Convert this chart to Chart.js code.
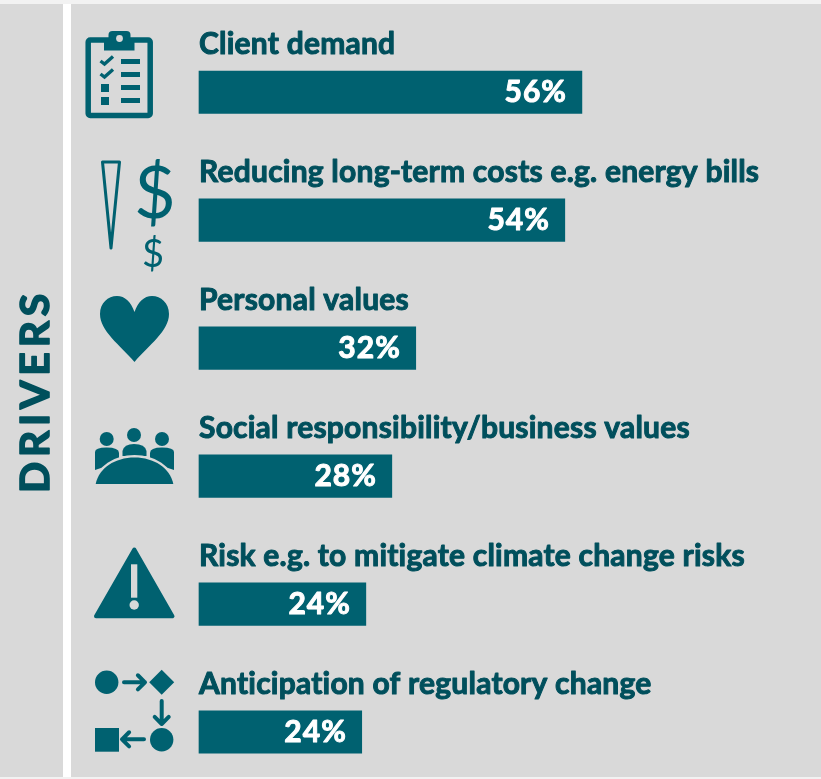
<!DOCTYPE html>
<html><head><meta charset="utf-8">
<style>html,body{margin:0;padding:0;background:#f2f2f2;overflow:hidden}canvas{display:block}</style>
<script src="https://cdn.jsdelivr.net/npm/chart.js@4"></script>
</head><body><canvas id="c" width="821" height="779"></canvas>
<script>
const categories = ["Client demand","Reducing long-term costs e.g. energy bills","Personal values","Social responsibility/business values","Risk e.g. to mitigate climate change risks","Anticipation of regulatory change"];
const shares = [56, 53.5, 31.7, 28.2, 24.4, 23.8];
const sideTitle = "DRIVERS";
const TEAL = "#006170", DARK = "#004f5c", PANEL = "#d9d9d9";

function heavyText(x,t,px,py,w){x.lineWidth=w;x.lineJoin="round";x.strokeStyle=x.fillStyle;x.strokeText(t,px,py);x.fillText(t,px,py);}
function dome(ctx){ctx.beginPath();ctx.moveTo(95.7,484);ctx.bezierCurveTo(99,468,115,457.5,134.5,457.5);ctx.bezierCurveTo(154,457.5,170,468,173.3,484);ctx.closePath();}
function arrow(ctx,x1,y1,x2,y2){
  const a=Math.atan2(y2-y1,x2-x1),h=10;
  ctx.beginPath();ctx.moveTo(x1,y1);ctx.lineTo(x2,y2);
  ctx.moveTo(x2-h*Math.cos(a-0.78),y2-h*Math.sin(a-0.78));ctx.lineTo(x2,y2);ctx.lineTo(x2-h*Math.cos(a+0.78),y2-h*Math.sin(a+0.78));ctx.stroke();
}
function drawIcons(ctx){
  ctx.save();ctx.fillStyle=TEAL;ctx.strokeStyle=TEAL;
  // clipboard
  ctx.lineWidth=5.5;ctx.lineJoin="round";ctx.beginPath();ctx.roundRect(88.2,40,62,75.5,2);ctx.stroke();
  ctx.beginPath();ctx.roundRect(108.5,31,22,15,4);ctx.fill();ctx.fillRect(104,40,30.5,10.5);
  ctx.fillStyle=PANEL;ctx.beginPath();ctx.arc(119.5,38.5,3.4,0,7);ctx.fill();ctx.fillStyle=TEAL;
  ctx.lineWidth=3.4;ctx.lineJoin="miter";
  [0,13].forEach(d=>{ctx.beginPath();ctx.moveTo(100.5,61+d);ctx.lineTo(104.5,64+d);ctx.lineTo(113,56.5+d);ctx.stroke();});
  [84,97].forEach(y=>ctx.fillRect(101,y,8,8));
  [59,72,85,98].forEach(y=>ctx.fillRect(121,y,19,5));
  // spike and dollars
  ctx.lineWidth=3;ctx.lineJoin="round";ctx.beginPath();ctx.moveTo(102.5,162);ctx.lineTo(119.5,162);ctx.lineTo(111,248);ctx.closePath();ctx.stroke();
  ctx.textAlign="center";ctx.textBaseline="alphabetic";
  ctx.font='400 72px Lato';ctx.fillText("$",155,218);
  ctx.font='400 38px Lato';ctx.fillText("$",153,267);
  // heart
  ctx.beginPath();ctx.moveTo(134.5,362);
  ctx.bezierCurveTo(120,345,100,331,100,314);ctx.bezierCurveTo(100,303,108,296,117,296);
  ctx.bezierCurveTo(125,296,131,302,134.5,312);ctx.bezierCurveTo(138,302,144,296,152,296);
  ctx.bezierCurveTo(161,296,169,303,169,314);ctx.bezierCurveTo(169,331,149,345,134.5,362);ctx.fill();
  // people
  [[106.7,439],[134,435],[162,439]].forEach(p=>{ctx.beginPath();ctx.arc(p[0],p[1],7,0,7);ctx.fill();});
  ctx.beginPath();ctx.moveTo(95,470);ctx.lineTo(95,452);ctx.quadraticCurveTo(95,447.5,106.5,447.5);ctx.quadraticCurveTo(119,447.5,119,453);ctx.lineTo(119,462);ctx.closePath();ctx.fill();
  ctx.beginPath();ctx.moveTo(174,470);ctx.lineTo(174,452);ctx.quadraticCurveTo(174,447.5,162,447.5);ctx.quadraticCurveTo(150,447.5,150,453);ctx.lineTo(150,462);ctx.closePath();ctx.fill();
  ctx.beginPath();ctx.moveTo(122.5,456);ctx.lineTo(122.5,451);ctx.quadraticCurveTo(124,444,134,444);ctx.quadraticCurveTo(145,444,146.5,451);ctx.lineTo(146.5,456);ctx.closePath();ctx.fill();
  ctx.strokeStyle=PANEL;ctx.lineWidth=5;dome(ctx);ctx.stroke();ctx.fill();ctx.strokeStyle=TEAL;
  // warning
  ctx.lineWidth=4;ctx.lineJoin="round";ctx.beginPath();ctx.moveTo(134.3,549.5);ctx.lineTo(172.5,616.3);ctx.lineTo(96,616.3);ctx.closePath();ctx.stroke();ctx.fill();
  ctx.fillStyle=PANEL;ctx.fillRect(131,564.3,6.3,33.4);ctx.beginPath();ctx.arc(134.2,605,4.7,0,7);ctx.fill();ctx.fillStyle=TEAL;
  // process flow
  ctx.beginPath();ctx.arc(106.7,682.3,11.7,0,7);ctx.fill();
  ctx.beginPath();ctx.moveTo(161.7,669.8);ctx.lineTo(174.2,682.3);ctx.lineTo(161.7,694.8);ctx.lineTo(149.2,682.3);ctx.closePath();ctx.fill();
  ctx.beginPath();ctx.arc(161.7,739.7,11.7,0,7);ctx.fill();
  ctx.fillRect(95,728,24,23.7);
  ctx.lineWidth=4;ctx.lineCap="round";
  arrow(ctx,124,682.3,145,682.3);arrow(ctx,161.7,701,161.7,724);arrow(ctx,144,739.3,122,739.3);
  ctx.restore();
}
const decor={id:"decor",
  beforeDraw(c){const x=c.ctx;x.save();x.fillStyle="#f2f2f2";x.fillRect(0,0,821,779);
    x.fillStyle=PANEL;x.fillRect(0,4,63,773);x.fillRect(71,4,750,773);x.fillStyle="#fff";x.fillRect(63,4,8,773);
    x.translate(49,391);x.rotate(-Math.PI/2);x.fillStyle=DARK;x.font='700 41px Lato';x.textAlign="center";x.textBaseline="alphabetic";x.letterSpacing="4.8px";heavyText(x,sideTitle,0,0,1.6);x.restore();
    drawIcons(x);},
  afterDatasetsDraw(c){const x=c.ctx,s=c.scales.x,y=c.scales.y,m=c.getDatasetMeta(0);x.save();x.textBaseline="alphabetic";
    m.data.forEach((b,i)=>{
      const top=y.getPixelForValue(i)-21.25;
      x.fillStyle=DARK;x.textAlign="left";x.font='700 30px Lato';x.letterSpacing="0.22px";heavyText(x,categories[i],s.getPixelForValue(0),top-17,1);
      x.fillStyle="#fff";x.textAlign="right";x.font='700 30px Lato';x.letterSpacing="1px";
      heavyText(x,Math.round(shares[i])+"%",s.getPixelForValue(shares[i])-15,top+31,1);x.letterSpacing="0px";
    });x.restore();}
};
new Chart(document.getElementById("c"),{type:"bar",
  data:{labels:categories,datasets:[{data:shares,backgroundColor:TEAL,barThickness:42.5,clip:false,borderWidth:0}]},
  options:{indexAxis:"y",responsive:false,animation:false,
    layout:{padding:{left:199,right:75,top:92.25,bottom:47}},
    plugins:{legend:{display:false},tooltip:{enabled:false},title:{display:false}},
    scales:{x:{display:false,min:0,max:80},y:{display:false,offset:false}}},
  plugins:[decor]});
</script></body></html>
